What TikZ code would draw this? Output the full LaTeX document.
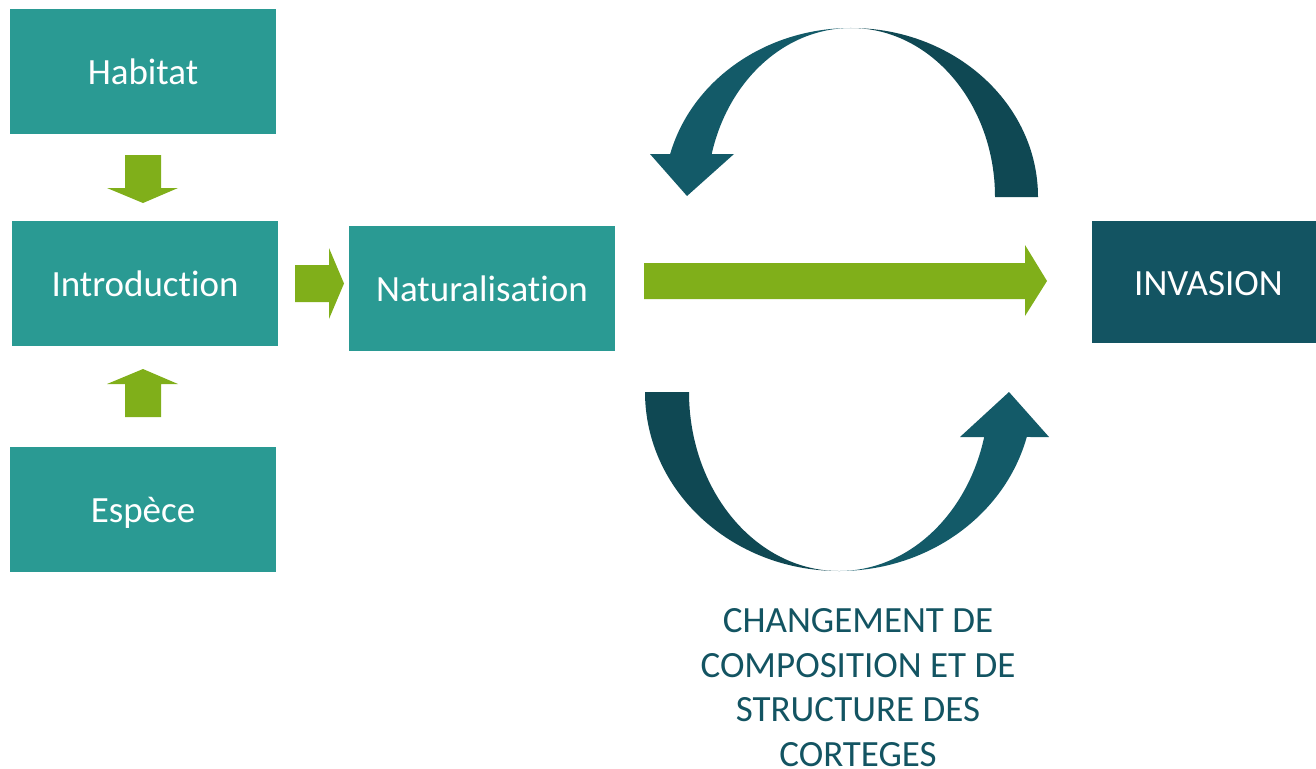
\documentclass[tikz,border=0pt]{standalone}
\usepackage{fontspec}
\setmainfont{Carlito}[Ligatures=NoCommon]
\usetikzlibrary{calc}

\definecolor{boxteal}{HTML}{2A9A93}
\definecolor{invteal}{HTML}{135462}
\definecolor{arrowgreen}{HTML}{80AF1A}
\definecolor{arcdark}{HTML}{0F4853}
\definecolor{arclight}{HTML}{135A68}

\begin{document}
\begin{tikzpicture}[x=1pt,y=-1pt,
	box/.style={fill=boxteal, text=white, inner sep=0pt,
		minimum width=266pt, minimum height=125pt,
		font=\fontsize{37}{44}\selectfont, text height=34pt, text depth=8pt},
	invbox/.style={box, fill=invteal, minimum width=233pt, minimum height=122pt},
	green/.style={fill=arrowgreen}]

	\useasboundingbox (0,0) rectangle (1316,768);

	% ---- boxes

	\node[box] (habitat) at (143,71.5) {Habitat};
	\node[box] (intro) at (145,283.5) {Introduction};
	\node[box] (espece) at (143,509.5) {Espèce};
	\node[box] (natur) at (482,288.5) {Naturalisation};
	\node[invbox] (invasion) at (1208.5,282) {INVASION};

	\node[font=\fontsize{37}{44.6}\selectfont, text=invteal, align=center,
		anchor=north, inner sep=0pt] (cortege) at (858,608.2)
		{CHANGEMENT DE\\COMPOSITION ET DE\\STRUCTURE DES\\CORTEGES};

	% ---- green arrows

	% habitat -> introduction
	\fill[green] (125,155) -- (161,155) -- (161,188) -- (178,188) -- (143,203)
		-- (107,188) -- (125,188) -- cycle;
	% espece -> introduction
	\fill[green] (125,417) -- (161,417) -- (161,384) -- (178,384) -- (143,369)
		-- (107,384) -- (125,384) -- cycle;
	% introduction -> naturalisation
	\fill[green] (295,265) -- (329,265) -- (329,248) -- (344,283.5) -- (329,319)
		-- (329,302) -- (295,302) -- cycle;
	% naturalisation -> invasion
	\fill[green] (644,263) -- (1025,263) -- (1025,245) -- (1047,281) -- (1025,316)
		-- (1025,299) -- (644,299) -- cycle;

	% ---- circular arrows

	% top, right half
	\fill[arcdark] (1038,197) arc[start angle=0, end angle=-90, x radius=187, y radius=169]
		arc[start angle=-90, end angle=0, x radius=144, y radius=169] -- cycle;
	% top, left half with head
	\fill[arclight] (851,28) arc[start angle=-90, end angle=-165.26, x radius=187, y radius=169]
		-- (650,154) -- (687,196) -- (734,154) -- (711.7,154)
		arc[start angle=-165.26, end angle=-90, x radius=144, y radius=169] -- cycle;

	% bottom, left half
	\fill[arcdark] (645,392) arc[start angle=180, end angle=90, x radius=194, y radius=179]
		arc[start angle=90, end angle=180, x radius=150, y radius=179] -- cycle;
	% bottom, right half with head
	\fill[arclight] (839,571) arc[start angle=90, end angle=14.56, x radius=194, y radius=179]
		-- (1049,437) -- (1009,392) -- (960,437) -- (984.2,437)
		arc[start angle=14.56, end angle=90, x radius=150, y radius=179] -- cycle;

\end{tikzpicture}
\end{document}
